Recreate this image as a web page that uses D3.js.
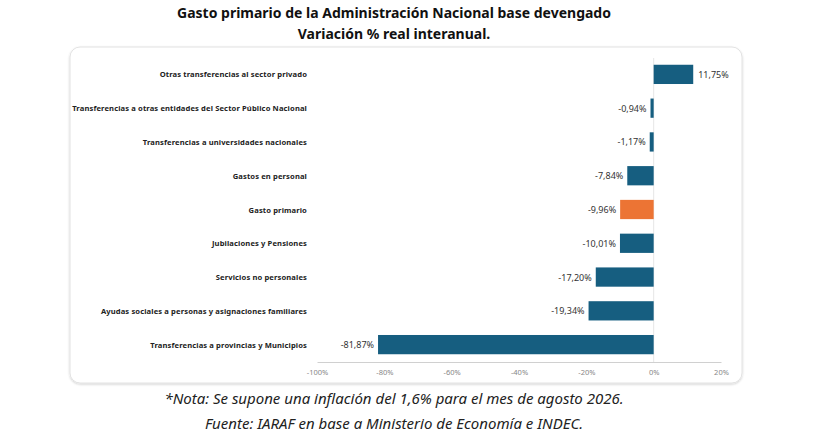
<!doctype html>
<html lang="es">
<head>
<meta charset="UTF-8">
<title>Gasto primario</title>
<script src="https://cdnjs.cloudflare.com/ajax/libs/d3/7.8.5/d3.min.js"></script>
<style>
  body { margin: 0; background: #fff; }
  text { font-family: "Noto Sans", "Open Sans", sans-serif; }
</style>
</head>
<body>
<svg id="chart" width="831" height="447"></svg>
<script>
    var categories = [
        'Otras transferencias al sector privado',
        'Transferencias a otras entidades del Sector Público Nacional',
        'Transferencias a universidades nacionales',
        'Gastos en personal',
        'Gasto primario',
        'Jubilaciones y Pensiones',
        'Servicios no personales',
        'Ayudas sociales a personas y asignaciones familiares',
        'Transferencias a provincias y Municipios'
    ];
    var values = [11.75, -0.94, -1.17, -7.84, -9.96, -10.01, -17.20, -19.34, -81.87];
    var ticks = [-100, -80, -60, -40, -20, 0, 20];
    var highlight = 'Gasto primario';

    var svg = d3.select('#chart');

    // card
    svg.append('defs').append('filter').attr('id', 'sh')
        .append('feDropShadow')
        .attr('dx', 0).attr('dy', 1).attr('stdDeviation', 1.2)
        .attr('flood-color', '#000').attr('flood-opacity', 0.18);
    svg.append('rect')
        .attr('x', 70).attr('y', 47).attr('width', 672).attr('height', 336)
        .attr('rx', 10).attr('fill', '#fff').attr('stroke', '#e2e2e2')
        .attr('filter', 'url(#sh)');

    // titles
    svg.append('text').attr('x', 394).attr('y', 18).attr('text-anchor', 'middle')
        .attr('font-size', 14).attr('font-weight', 'bold').attr('fill', '#111')
        .text('Gasto primario de la Administración Nacional base devengado');
    svg.append('text').attr('x', 394).attr('y', 39).attr('text-anchor', 'middle')
        .attr('font-size', 14).attr('font-weight', 'bold').attr('fill', '#111')
        .text('Variación % real interanual.');

    var x = d3.scaleLinear().domain([-100, 20]).range([317, 721]);
    var y = d3.scaleBand().domain(categories).range([58, 361]).paddingInner(0.43).paddingOuter(0.2);

    // zero line
    svg.append('line').attr('x1', x(0)).attr('x2', x(0))
        .attr('y1', 58).attr('y2', 362).attr('stroke', '#e6e6e6');

    var axis = svg.append('g').attr('transform', 'translate(0,362)')
        .call(d3.axisBottom(x).tickValues(ticks).tickSize(0).tickPadding(8)
            .tickFormat(function (d) { return d + '%'; }));
    axis.select('.domain').attr('stroke', '#d0d0d0');
    axis.selectAll('text').attr('font-size', 7.5).attr('fill', '#888')
        .style('font-family', '"Noto Sans", sans-serif');

    svg.selectAll('rect.bar').data(values).enter().append('rect')
        .attr('class', 'bar')
        .attr('x', function (d) { return x(Math.min(0, d)); })
        .attr('y', function (d, i) { return y(categories[i]); })
        .attr('width', function (d) { return Math.abs(x(d) - x(0)); })
        .attr('height', y.bandwidth())
        .attr('fill', function (d, i) { return categories[i] === highlight ? '#ec7434' : '#165e80'; });

    svg.selectAll('text.val').data(values).enter().append('text')
        .attr('class', 'val')
        .attr('x', function (d) { return d < 0 ? x(d) - 4 : x(d) + 5; })
        .attr('y', function (d, i) { return y(categories[i]) + y.bandwidth() / 2 + 3.5; })
        .attr('text-anchor', function (d) { return d < 0 ? 'end' : 'start'; })
        .attr('font-size', 9).attr('fill', '#333')
        .text(function (d) { return d.toFixed(2).replace('.', ',') + '%'; });

    svg.selectAll('text.cat').data(categories).enter().append('text')
        .attr('class', 'cat')
        .attr('x', 307)
        .attr('y', function (d) { return y(d) + y.bandwidth() / 2 + 3; })
        .attr('text-anchor', 'end')
        .attr('font-size', 7.6).attr('font-weight', 'bold').attr('fill', '#222')
        .attr('letter-spacing', 0.12)
        .text(function (d) { return d; });

    // notes
    svg.append('text').attr('x', 394).attr('y', 404).attr('text-anchor', 'middle')
        .attr('font-size', 15).attr('font-style', 'italic').attr('fill', '#222')
        .text('*Nota: Se supone una inflación del 1,6% para el mes de agosto 2026.');
    svg.append('text').attr('x', 394).attr('y', 429).attr('text-anchor', 'middle')
        .attr('font-size', 15).attr('font-style', 'italic').attr('fill', '#222')
        .text('Fuente: IARAF en base a Ministerio de Economía e INDEC.');
</script>
</body>
</html>
